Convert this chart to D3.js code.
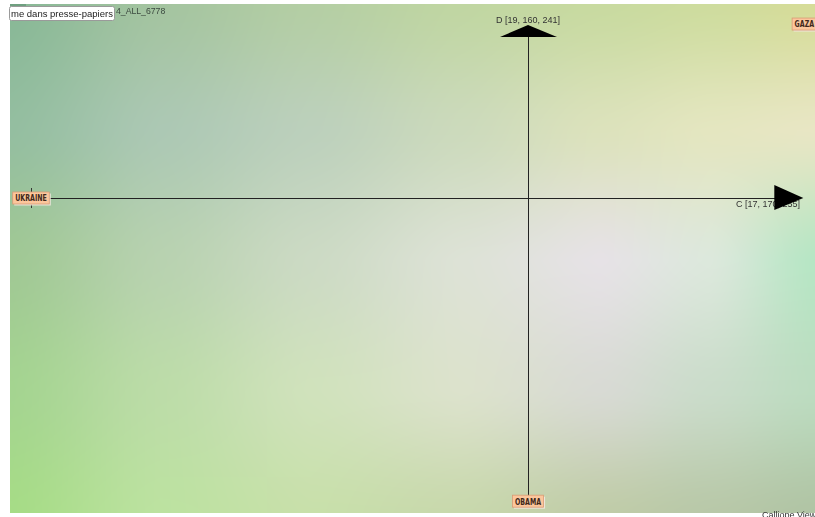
<!DOCTYPE html>
<html><head><meta charset="utf-8">
<script src="https://cdn.jsdelivr.net/npm/d3@7/dist/d3.min.js"></script>
<style>
html,body{margin:0;padding:0;background:#fff;overflow:hidden}
#wrap{position:relative;width:815px;height:517px;overflow:hidden}
canvas,svg{position:absolute;left:0;top:0}
</style></head><body>
<div id="wrap"><canvas id="bg" width="815" height="517"></canvas><svg id="chart" width="815" height="517"></svg></div>
<script>
// ---- data ----
const labels  = ["UKRAINE", "GAZA", "OBAMA"];
const cValues = [-1, 0.556, 0];      // horizontal axis C
const dValues = [0, 0.35, -0.61];    // vertical axis D
const axisC = "C [17, 170, 255]";
const axisD = "D [19, 160, 241]";
const fileTag = "4_ALL_6778";
const tipText = "me dans presse-papiers";
const footer = "Calliope Viewer";

// ---- background colour grid (style) ----
const gx = [10, 160, 310, 460, 600, 710, 815];
const gy = [4, 130, 260, 390, 513];
const gc = [
 ["#88b896","#a4c4a0","#b4cea4","#c0d6a2","#c8daa0","#cedc9e","#d6dc98"],
 ["#94bea0","#acc8b4","#bcd0bc","#ccdabc","#dce2bc","#e4e6c0","#e8e6c4"],
 ["#a0c894","#b8d2b0","#ccdac4","#dde2d6","#e6e2e6","#dce8dc","#b6e6c4"],
 ["#a4d490","#bcdca8","#d0e2bc","#dce2cc","#d8dad4","#cadcca","#bcdcc0"],
 ["#a6dc86","#bce2a0","#c8e0aa","#c8d8ac","#c0cca8","#b8c8a8","#b0c4a4"]
];
(function paintBg(){
  const cv = document.getElementById("bg"), ctx = cv.getContext("2d");
  ctx.fillStyle = "#fff"; ctx.fillRect(0,0,815,517);
  const x0 = gx[0], x1 = gx[gx.length-1], y0 = gy[0], y1 = gy[gy.length-1];
  const W = x1 - x0, H = y1 - y0;
  const img = ctx.createImageData(W, H);
  const cols = gc.map(r => r.map(c => d3.rgb(c)));
  const fx = d3.scaleLinear().domain(gx).range(d3.range(gx.length)).clamp(true);
  const fy = d3.scaleLinear().domain(gy).range(d3.range(gy.length)).clamp(true);
  const sm = t => 0.5 * t + 0.5 * t * t * (3 - 2 * t);
  for (let py = 0; py < H; py++) {
    const v = fy(py + y0), j = Math.min(Math.floor(v), gy.length - 2), ty = sm(v - j);
    for (let px = 0; px < W; px++) {
      const u = fx(px + x0), i = Math.min(Math.floor(u), gx.length - 2), tx = sm(u - i);
      const a = cols[j][i], b = cols[j][i+1], c = cols[j+1][i], d = cols[j+1][i+1];
      const k = (py * W + px) * 4;
      img.data[k]   = (a.r*(1-tx)+b.r*tx)*(1-ty) + (c.r*(1-tx)+d.r*tx)*ty;
      img.data[k+1] = (a.g*(1-tx)+b.g*tx)*(1-ty) + (c.g*(1-tx)+d.g*tx)*ty;
      img.data[k+2] = (a.b*(1-tx)+b.b*tx)*(1-ty) + (c.b*(1-tx)+d.b*tx)*ty;
      img.data[k+3] = 255;
    }
  }
  ctx.putImageData(img, x0, y0);
})();

// ---- chart ----
const svg = d3.select("#chart");
const x = d3.scaleLinear().domain([-1, 1]).range([31, 1025]);
const y = d3.scaleLinear().domain([-1, 1]).range([695, -299]);
const cx0 = x(0), cy0 = y(0);
const [cMin, cMax] = d3.extent(cValues);
const [dMin, dMax] = d3.extent(dValues);

// axis lines
svg.append("line").attr("x1", x(cMin)).attr("x2", x(cMax) - 4).attr("y1", cy0).attr("y2", cy0)
  .attr("stroke", "#222").attr("stroke-width", 1).attr("shape-rendering", "crispEdges");
svg.append("line").attr("x1", cx0).attr("x2", cx0).attr("y1", y(dMax) + 4).attr("y2", y(dMin))
  .attr("stroke", "#222").attr("stroke-width", 1).attr("shape-rendering", "crispEdges");
// end ticks
svg.append("line").attr("x1", x(cMin)).attr("x2", x(cMin)).attr("y1", cy0 - 10).attr("y2", cy0 + 10)
  .attr("stroke", "#333").attr("stroke-width", 1).attr("shape-rendering", "crispEdges");
svg.append("line").attr("x1", cx0 - 10).attr("x2", cx0 + 10).attr("y1", y(dMin)).attr("y2", y(dMin))
  .attr("stroke", "#333").attr("stroke-width", 1).attr("shape-rendering", "crispEdges");

// axis name labels
svg.append("text").attr("x", cx0).attr("y", 23).attr("text-anchor", "middle")
  .attr("font-family", "Liberation Sans, Arial, sans-serif").attr("font-size", 9)
  .attr("fill", "#333").text(axisD);
svg.append("text").attr("x", 800).attr("y", 207).attr("text-anchor", "end")
  .attr("font-family", "Liberation Sans, Arial, sans-serif").attr("font-size", 9)
  .attr("fill", "#333").text(axisC);

// arrows
const tipX = x(cMax) - 1;
svg.append("path").attr("d", `M${tipX},${cy0} L${tipX-29},${cy0-13} L${tipX-29},${cy0+12} Z`).attr("fill", "#000");
const tipY = y(dMax) + 1;
svg.append("path").attr("d", `M${cx0},${tipY} L${cx0+29},${tipY+12} L${cx0-28},${tipY+12} Z`).attr("fill", "#000");

// point labels
const pts = labels.map((l, i) => ({label: l, c: cValues[i], d: dValues[i]}));
const g = svg.selectAll("g.pt").data(pts).join("g").attr("class", "pt")
  .attr("transform", p => `translate(${x(p.c)},${y(p.d)})`);
g.each(function(p){
  const gg = d3.select(this);
  const t = gg.append("text").attr("text-anchor", "middle").attr("y", 3.4)
    .attr("font-family", "DejaVu Sans Condensed, Liberation Sans Narrow, sans-serif")
    .attr("font-size", 9.2).attr("font-weight", "bold").attr("fill", "#40281a")
    .text(p.label);
  const natural = t.node().getComputedTextLength();
  const tl = natural * 0.76;
  t.attr("textLength", tl).attr("lengthAdjust", "spacingAndGlyphs");
  const w = tl + 5;
  gg.insert("rect", "text").attr("x", -w/2 + 0.5).attr("y", -5.5).attr("width", w).attr("height", 12)
    .attr("fill", "#f2e8de").attr("opacity", 0.9).attr("transform", "translate(1,1)");
  gg.insert("rect", "text").attr("x", -w/2).attr("y", -6).attr("width", w).attr("height", 12)
    .attr("fill", "#fcc69c").attr("stroke", "#d89a74").attr("stroke-width", 0.8);
});

// top-left file tag and tooltip
svg.append("rect").attr("x", 10).attr("y", 4).attr("width", 16).attr("height", 2).attr("fill", "#6fa080");
svg.append("text").attr("x", 116).attr("y", 14).attr("font-family", "Liberation Sans, Arial, sans-serif")
  .attr("font-size", 8.7).attr("fill", "#3c4a40").text(fileTag);
svg.append("rect").attr("x", 9.5).attr("y", 6.5).attr("width", 105).attr("height", 14).attr("rx", 2)
  .attr("fill", "#fff").attr("stroke", "#9a9a9a");
svg.append("text").attr("x", 11).attr("y", 17).attr("font-family", "Liberation Sans, Arial, sans-serif")
  .attr("font-size", 9.5).attr("fill", "#222").text(tipText);

// footer
svg.append("text").attr("x", 762).attr("y", 518).attr("font-family", "Liberation Sans, Arial, sans-serif")
  .attr("font-size", 9).attr("fill", "#333").text(footer);
</script>
</body></html>
